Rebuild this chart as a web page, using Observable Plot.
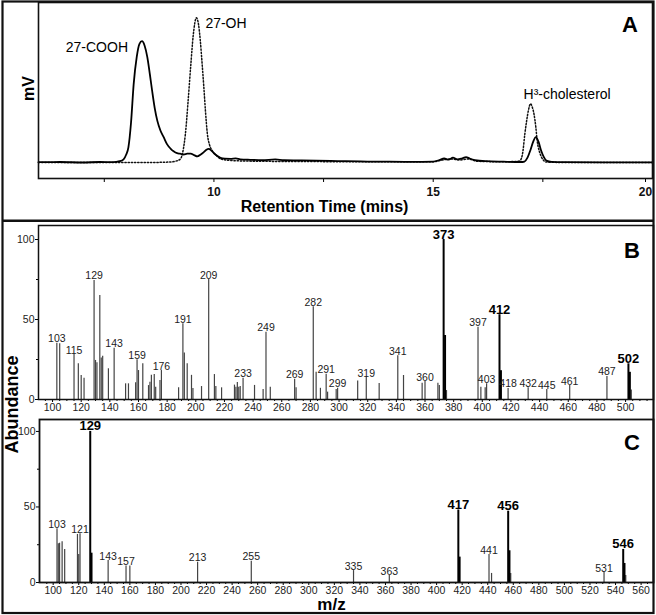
<!DOCTYPE html>
<html>
<head>
<meta charset="utf-8">
<script src="https://cdn.jsdelivr.net/npm/d3@7"></script>
<script src="https://cdn.jsdelivr.net/npm/@observablehq/plot@0.6"></script>
<style>
  body { margin: 0; background: #fff; }
  #fig { position: relative; width: 656px; height: 615px; background: #fff; overflow: hidden; }
  #fig > svg { position: absolute; left: 0; display: block; }
</style>
</head>
<body>
<div id="fig"></div>
<script>
// ---------------- DATA ----------------
// Panel A: HPLC radio-chromatogram, [retention time (min), signal (mV, arbitrary)]
const sampleTrace = [
  [6.0,0.2],[6.5,0.3],[7.0,0.0],[7.4,0.3],[7.7,0.2],[7.85,0.8],[7.94,2],[8.0,5],[8.05,9.5],[8.11,25],
  [8.17,49],[8.24,66],[8.3,74],[8.36,75.8],[8.42,73],[8.48,66],[8.54,55],[8.59,45],[8.65,34],[8.71,26],
  [8.78,20],[8.86,15.5],[8.93,11.5],[9.01,8.7],[9.08,7],[9.16,5.8],[9.23,5.5],[9.31,5],[9.39,5.5],[9.47,5.6],
  [9.55,4.6],[9.62,3.8],[9.7,5],[9.77,6.5],[9.83,8],[9.88,8.5],[9.94,7.5],[10.0,5.8],[10.08,4],[10.15,2.9],
  [10.25,2.4],[10.38,2.3],[10.5,2.6],[10.6,2.0],[10.83,1.7],[11.1,1.5],[11.4,1.9],[11.6,1.4],[12.0,1.3],
  [12.66,1.0],[13.0,0.8],[13.5,0.6],[14.0,0.5],[14.5,0.4],[15.0,0.6],[15.14,1.5],[15.25,2.5],[15.35,1.8],
  [15.45,3],[15.55,2],[15.65,2.5],[15.75,3.4],[15.83,2.5],[15.95,1.5],[16.2,0.8],[16.6,0.5],[17.0,0.3],
  [17.08,0.6],[17.15,3],[17.22,8],[17.28,13],[17.34,15.8],[17.4,13],[17.46,7.5],[17.52,3.5],[17.58,1.2],
  [17.7,0.4],[18.0,0.2],[19.0,0.1],[20.0,0.1]
];
const standardTrace = [
  [6.0,0],[7.0,0],[8.0,0],[8.5,0],[9.0,0.3],[9.15,1],[9.24,2.3],[9.3,8],[9.35,18],[9.41,38],[9.47,60],
  [9.53,80],[9.6,90.4],[9.65,86],[9.69,76],[9.73,62],[9.77,47],[9.81,31],[9.85,18],[9.9,11],[9.96,7.5],
  [10.05,4.5],[10.15,2.3],[10.3,1.5],[10.6,1.0],[11.0,0.8],[12.0,0.6],[13.0,0.5],[14.0,0.4],[15.0,0.5],
  [15.2,1.5],[15.4,2.2],[15.6,1.6],[15.8,2.2],[16.0,0.8],[16.5,0.5],[16.9,0.6],[16.98,1.2],[17.04,6],
  [17.09,18],[17.13,26],[17.17,32.5],[17.22,36.7],[17.26,34.5],[17.3,30],[17.34,22],[17.37,13.7],
  [17.42,7],[17.47,3.3],[17.58,0.3],[18.0,0],[19.0,0],[20.0,0]
];
const peakNames = ["27-COOH", "27-OH", "H\u00B3-cholesterol"];
const peakTimes = [8.36, 9.6, 17.22];
const peakHeights = [75.8, 90.4, 36.7];
const rtMajorTicks = [10, 15, 20];
const rtMinorTicks = [7.5, 12.5, 17.5];

// Panel B: mass spectrum [m/z, relative abundance]
const spectrumB = [
  [103,35.2],[105,34.8],[115,28.1],[118,22.3],[120,15],[122,13.3],[129,74.4],[130,24.4],[131,23],[133,65],
  [134,26],[135,27],[139,19.2],[143,32],[151,9.8],[153,9.8],[158,10.5],[159,24.8],[160,18.1],[163,22.3],
  [167,8.7],[168,10.8],[169,15.1],[171,15.6],[172,7.6],[175,11.8],[176,18.1],[188,7.3],[191,47.3],[192,29],
  [194,22.3],[197,15.1],[198,6.9],[204,8.1],[209,75],[213,15.6],[214,8.1],[218,7.3],[227,9],[228,7.7],
  [229,10.6],[230,7.7],[231,8.1],[233,13.3],[241,8.8],[247,6.3],[249,42],[252,7.7],[269,12.7],[270,7.3],
  [282,58],[284,17],[287,7],[291,15.8],[292,4.6],[298,6.3],[299,7],[313,11.5],[319,13.75],[328,10],
  [341,27.3],[345,15],[358,10.2],[360,11.2],[369,10.2],[370,8.8],[373,100],[374,40],[375,5.6],[397,45.2],
  [399,7.7],[402,7.3],[403,9.8],[412,53],[413,18],[418,6.9],[432,7.3],[445,6.25],[461,8.75],[487,14.4],
  [502,22.3],[503,17],[504,6]
];
const labelsB = [103,115,129,143,159,176,191,209,233,249,269,282,291,299,319,341,360,373,397,403,412,418,432,445,461,487,502];
const boldB = [373,412,502];

// Panel C: mass spectrum [m/z, relative abundance]
const spectrumC = [
  [103,35.5],[104,25.6],[105,26],[107,27],[109,21.9],[119,31.8],[120,18.5],[121,32.2],[129,100],[130,19.4],
  [143,14.5],[157,11],[160,11],[213,13.4],[255,14],[335,7.9],[363,4.6],[417,48],[418,16.8],[441,18.5],
  [443,6],[456,47.2],[457,21],[458,6],[531,6.6],[546,21.9],[547,12.6],[548,4.6]
];
const labelsC = [103,121,129,143,157,213,255,335,363,417,441,456,531,546];
const boldC = [129,417,456,546];

const abundanceTicks = [0, 50, 100];
const abundanceMinor = [25, 75];

// ---------------- RENDER ----------------
const SANS = "'Liberation Sans', Arial, Helvetica, sans-serif";
const NARROW = "'Liberation Sans Narrow', 'Arial Narrow', 'Liberation Sans', Arial, sans-serif";
const baseStyle = {fontFamily: SANS, fontSize: "10px", color: "#111", background: "transparent", overflow: "visible"};
const fig = document.getElementById("fig");

function place(svg, top) {
  svg.style.position = "absolute";
  svg.style.top = top + "px";
  svg.style.left = "0px";
  fig.appendChild(svg);
}

// Panel A
const pA = Plot.plot({
  width: 656, height: 222,
  marginLeft: 38, marginRight: 4, marginTop: 2, marginBottom: 44,
  x: {domain: [6, 20]},
  y: {domain: [-10, 100], axis: null},
  style: baseStyle,
  marks: [
    Plot.line(standardTrace, {x: d => d[0], y: d => d[1], stroke: "#111", strokeWidth: 1.5, strokeDasharray: "1.3,1.9", curve: "monotone-x"}),
    Plot.line(sampleTrace, {x: d => d[0], y: d => d[1], stroke: "#000", strokeWidth: 1.8, curve: "monotone-x"}),
    Plot.text([0], {x: i => peakTimes[i], y: i => peakHeights[i], text: i => peakNames[i], textAnchor: "end", lineAnchor: "middle", dx: -14, dy: 6, fontSize: 14, fontFamily: SANS, fill: "#000"}),
    Plot.text([1], {x: i => peakTimes[i], y: i => peakHeights[i], text: i => peakNames[i], textAnchor: "start", lineAnchor: "middle", dx: 9, dy: 6, fontSize: 14, fontFamily: SANS, fill: "#000"}),
    Plot.text([2], {x: i => peakTimes[i], y: i => peakHeights[i], text: i => peakNames[i], textAnchor: "start", lineAnchor: "middle", dx: -7, dy: -9, fontSize: 14, fontFamily: SANS, fill: "#000"}),
    Plot.axisX({ticks: rtMajorTicks.slice(0, 2), tickSize: 4, tickPadding: 5, fontSize: 12, fontWeight: "bold", fontFamily: SANS, label: null, stroke: "#000"}),
    Plot.axisX({ticks: rtMajorTicks.slice(2), tickSize: 4, tickPadding: 5, fontSize: 12, fontWeight: "bold", fontFamily: SANS, label: null, dx: -7, stroke: "#000"}),
    Plot.axisX({ticks: rtMinorTicks, tickSize: 4, tickFormat: () => "", label: null, stroke: "#000"}),
    Plot.frame({stroke: "#111", strokeWidth: 1.6}),
    Plot.text(["Retention Time (mins)"], {frameAnchor: "bottom", textAnchor: "middle", lineAnchor: "middle", dx: -21, dy: 28, fontSize: 16, fontWeight: "bold", fontFamily: SANS, fill: "#000"}),
    Plot.text(["mV"], {frameAnchor: "left", textAnchor: "middle", lineAnchor: "middle", rotate: -90, dx: -10, dy: -2, fontSize: 16, fontWeight: "bold", fontFamily: SANS, fill: "#000"}),
    Plot.text(["A"], {frameAnchor: "top-right", textAnchor: "middle", lineAnchor: "middle", dx: -22.5, dy: 22.5, fontSize: 22, fontWeight: "bold", fontFamily: SANS, fill: "#000"})
  ]
});
place(pA, 0);

function spectrumPlot(spec, labels, bold, letter, o) {
  const bars = spec.map(([mz, ab]) => ({mz, ab, strong: bold.some(b => mz >= b && mz - b <= 1)}));
  const labs = labels.map(mz => ({mz, ab: spec.find(d => d[0] === mz)[1], bold: bold.includes(mz)}));
  const major = d3.range(100, o.xdomain[1], 20);
  const minor = d3.range(95, o.xdomain[1], 5).filter(v => v % 20 !== 0 && v > o.xdomain[0]);
  return Plot.plot({
    width: 656, height: o.height,
    marginLeft: o.ml, marginRight: 3, marginTop: o.mt, marginBottom: o.mb,
    x: {domain: o.xdomain},
    y: {domain: o.ydomain},
    style: baseStyle,
    marks: [
      Plot.ruleX(bars.filter(d => !d.strong), {x: "mz", y1: 0, y2: "ab", stroke: "#444", strokeWidth: 1.2}),
      Plot.ruleX(bars.filter(d => d.strong), {x: "mz", y1: 0, y2: "ab", stroke: "#000", strokeWidth: 2}),
      Plot.text(labs.filter(d => !d.bold), {x: "mz", y: "ab", text: d => String(d.mz), lineAnchor: "bottom", dy: -1, fontSize: 10.5, fontFamily: NARROW, fill: "#222"}),
      Plot.text(labs.filter(d => d.bold), {x: "mz", y: "ab", text: d => String(d.mz), lineAnchor: "bottom", dy: -1, fontSize: 13, fontWeight: "bold", fontFamily: SANS, fill: "#000"}),
      Plot.axisX({ticks: major, tickSize: 3, tickPadding: 1, fontSize: 10.5, fontFamily: NARROW, fill: "#222", label: null, stroke: "#000"}),
      Plot.axisX({ticks: minor, tickSize: 2, tickFormat: () => "", label: null, stroke: "#000"}),
      Plot.axisY({ticks: abundanceTicks, tickSize: 3, tickPadding: 1, fontSize: 10.5, fontFamily: NARROW, fill: "#222", label: null, stroke: "#000"}),
      Plot.axisY({ticks: abundanceMinor, tickSize: 2, tickFormat: () => "", label: null, stroke: "#000"}),
      Plot.frame({stroke: "#111", strokeWidth: o.frameWidth}),
      Plot.text([letter], {frameAnchor: "top-right", textAnchor: "middle", lineAnchor: "middle", dx: -21.5, dy: o.letterDy, fontSize: 22, fontWeight: "bold", fontFamily: SANS, fill: "#000"}),
      ...(o.xlabel ? [Plot.text([o.xlabel], {frameAnchor: "bottom", textAnchor: "middle", lineAnchor: "middle", dx: -15, dy: 22, fontSize: 17, fontWeight: "bold", fontFamily: SANS, fill: "#000"})] : [])
    ]
  });
}

const pB = spectrumPlot(spectrumB, labelsB, boldB, "B", {
  height: 196, ml: 38, mt: 3, mb: 19, xdomain: [90.2, 519.5], ydomain: [0, 108.75], letterDy: 25, frameWidth: 1.5
});
place(pB, 222);

const pC = spectrumPlot(spectrumC, labelsC, boldC, "C", {
  height: 197, ml: 39, mt: 1, mb: 33, xdomain: [89.3, 569.7], ydomain: [0, 107.9], letterDy: 23.5, frameWidth: 1.8, xlabel: "m/z"
});
place(pC, 418);

// Overlay: outer panel frame, divider and shared y label
const ov = d3.create("svg").attr("width", 656).attr("height", 615).attr("viewBox", "0 0 656 615")
  .style("position", "absolute").style("top", "0px").style("left", "0px").style("pointer-events", "none");
ov.append("rect").attr("x", 2.5).attr("y", 1.5).attr("width", 651).attr("height", 611.5)
  .attr("fill", "none").attr("stroke", "#111").attr("stroke-width", 2.2);
ov.append("line").attr("x1", 2).attr("x2", 654).attr("y1", 220.8).attr("y2", 220.8)
  .attr("stroke", "#111").attr("stroke-width", 2.6);
ov.append("text").attr("transform", "translate(11.5,404.5) rotate(-90)")
  .attr("text-anchor", "middle").attr("dominant-baseline", "central")
  .attr("font-family", SANS).attr("font-size", 18).attr("font-weight", "bold").attr("fill", "#000")
  .text("Abundance");
fig.appendChild(ov.node());
</script>
</body>
</html>
